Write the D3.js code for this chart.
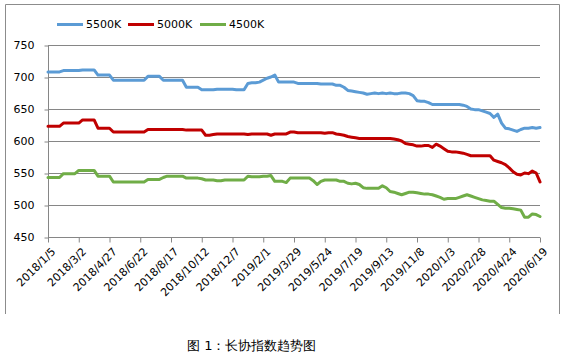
<!DOCTYPE html>
<html>
<head>
<meta charset="utf-8">
<script src="https://cdn.jsdelivr.net/npm/d3@7"></script>
<style>
  html, body { margin: 0; padding: 0; background: #fff; }
  svg { display: block; }
  text { font-family: "DejaVu Sans", Verdana, sans-serif; }
</style>
</head>
<body>
<svg id="chart" width="566" height="358"></svg>
<script>
// ---------------- DATA ----------------
const seriesNames = ["5500K", "5000K", "4500K"];
const seriesColors = ["#5B9BD5", "#C00000", "#70AD47"];

// weekly categories (Fridays) 2018/1/5 .. 2020/6/19
const categories = d3.timeFriday.range(new Date(2018, 0, 5), new Date(2020, 5, 20));

const yTicks = [450, 500, 550, 600, 650, 700, 750];

const s5500 = [
  708,708,708,708, 710,710,710,710,710, 711,711,711,711, 703,703,703,703,
  695,695,695,695,695,695,695,695,695, 701,701,701,701, 695,695,695,695,695,695,
  684,684,684,684, 680,680,680,680, 681,681,681,681,681, 680,680,680,
  690,691,691,692,695,698,700,703,
  692,692,692,692,692, 690,690,690,690,690,690, 689,689,689,689, 687,687,
  684,679,678,677,676,675,673,674,675,674,675,674,675,674,674,675,675,674,671,663,662,662,660,
  657,657,657,657,657,657,657,657,
  656,654,650,649,649,647,645,643,637,642,628,620,619,617,615,618,620,620,621,620,621
];

const s5000 = [
  623,623,623,623, 628,628,628,628,628, 633,633,633,633, 620,620,620,620,
  614,614,614,614,614,614,614,614,614, 618,618,618,618,618,618,618,618,618,618,
  617,617,617,617,617, 609,609, 610, 611,611,611,611,611,611,611,611, 610,
  611,611,611,611,611, 609, 611,611,611,611, 614,614, 613,613,613,613,613,613,613,
  612,613,613,611,610,609,607,606,605,
  604,604,604,604,604,604,604,604,604,
  603,602,600,596,595,594,592,592,593,593,590,595,592,588,584,583,583,582,581,579,577,
  577,577,577,577,577,
  570,568,566,563,558,552,548,547,550,549,553,550,536
];

const s4500 = [
  543,543,543,543, 549,549,549,549, 554,554,554,554,554, 545,545,545,545,
  536,536,536,536,536,536,536,536,536, 540,540,540,540, 543, 545,545,545,545,545,
  542,542,542,542, 541, 539,539,539, 538,538, 539,539,539,539,539,539,
  545, 544,544,544, 545,545, 546, 537,537,537, 535,
  542,542,542,542,542,542,
  538,532,537,539,539,539,539,537,537,534,533,534,532,527, 526,526,526,526,
  530,527,521,520,518,516,518,520,520,519,
  518,517,517,516,514,512,509, 510,510,510,
  512,514,516,514,512,510,508,507,506,506,
  501,496,495,495,494,493,492,481,481,486,485,482
];

const seriesValues = [s5500, s5000, s4500];
// --------------------------------------

const svg = d3.select("#chart");
const fmt = d3.timeFormat("%Y/%-m/%-d");
const catLabels = categories.map(fmt);

const plotL = 48, plotR = 540, plotT = 45, plotB = 237;

const x = d3.scalePoint().domain(catLabels).range([plotL, plotR]);
const y = d3.scaleLinear().domain([450, 750]).range([plotB, plotT]);

// outer frame (left, top, right)
svg.append("path")
  .attr("d", "M5.5,314 V4.5 H559.5 V314")
  .attr("fill", "none").attr("stroke", "#8c8c8c").attr("stroke-width", 1);

// gridlines
svg.append("g").selectAll("line")
  .data(yTicks.filter(v => v !== 450))
  .join("line")
  .attr("x1", plotL).attr("x2", plotR)
  .attr("y1", d => Math.round(y(d)) + 0.5).attr("y2", d => Math.round(y(d)) + 0.5)
  .attr("stroke", "#868686").attr("stroke-width", 1);

// y axis
const yAxis = svg.append("g")
  .attr("transform", `translate(${plotL + 0.5},0)`)
  .call(d3.axisLeft(y).tickValues(yTicks).tickSize(4).tickPadding(10).tickFormat(d3.format("d")));
yAxis.select(".domain").attr("stroke", "#868686").attr("d", `M0,${plotB} V${plotT}`);
yAxis.selectAll(".tick line").attr("stroke", "#868686").attr("transform", "translate(0,0.5)");
yAxis.selectAll(".tick text").attr("font-size", 11).attr("fill", "#000")
  .attr("font-family", "DejaVu Sans");

// x axis
const tickCats = catLabels.filter((d, i) => i % 8 === 0);
const xAxis = svg.append("g")
  .attr("transform", `translate(0,${Math.round(plotB) + 0.5})`)
  .call(d3.axisBottom(x).tickValues(tickCats).tickSize(5).tickSizeOuter(0));
xAxis.select(".domain").attr("stroke", "#868686").attr("d", `M${plotL},0 H${plotR}`);
xAxis.selectAll(".tick line").attr("stroke", "#868686");
xAxis.selectAll(".tick text")
  .attr("font-size", 11).attr("fill", "#000").attr("font-family", "DejaVu Sans")
  .attr("text-anchor", "end")
  .attr("x", 0).attr("y", 0).attr("dy", "0.35em")
  .attr("transform", "translate(5,12) rotate(-45)");

// lines
const line = d3.line()
  .x((d, i) => x(catLabels[i]))
  .y(d => y(d));

seriesValues.forEach((vals, k) => {
  svg.append("path")
    .datum(vals)
    .attr("fill", "none")
    .attr("stroke", seriesColors[k])
    .attr("stroke-width", 3)
    .attr("stroke-linejoin", "round")
    .attr("stroke-linecap", "round")
    .attr("d", line);
});

// legend
const legendX = [57, 128, 200];
const legend = svg.append("g");
seriesNames.forEach((name, k) => {
  legend.append("line")
    .attr("x1", legendX[k]).attr("x2", legendX[k] + 26)
    .attr("y1", 24.5).attr("y2", 24.5)
    .attr("stroke", seriesColors[k]).attr("stroke-width", 3);
  legend.append("text")
    .attr("x", legendX[k] + 29).attr("y", 24.5)
    .attr("dy", "0.35em")
    .attr("font-size", 11).attr("fill", "#000")
    .text(name);
});

// caption
svg.append("text")
  .attr("x", 187).attr("y", 345).attr("dy", "0.35em")
  .attr("font-family", "'Noto Sans CJK SC', sans-serif")
  .attr("font-size", 13).attr("fill", "#000")
  .text("图 1：长协指数趋势图");
</script>
</body>
</html>
